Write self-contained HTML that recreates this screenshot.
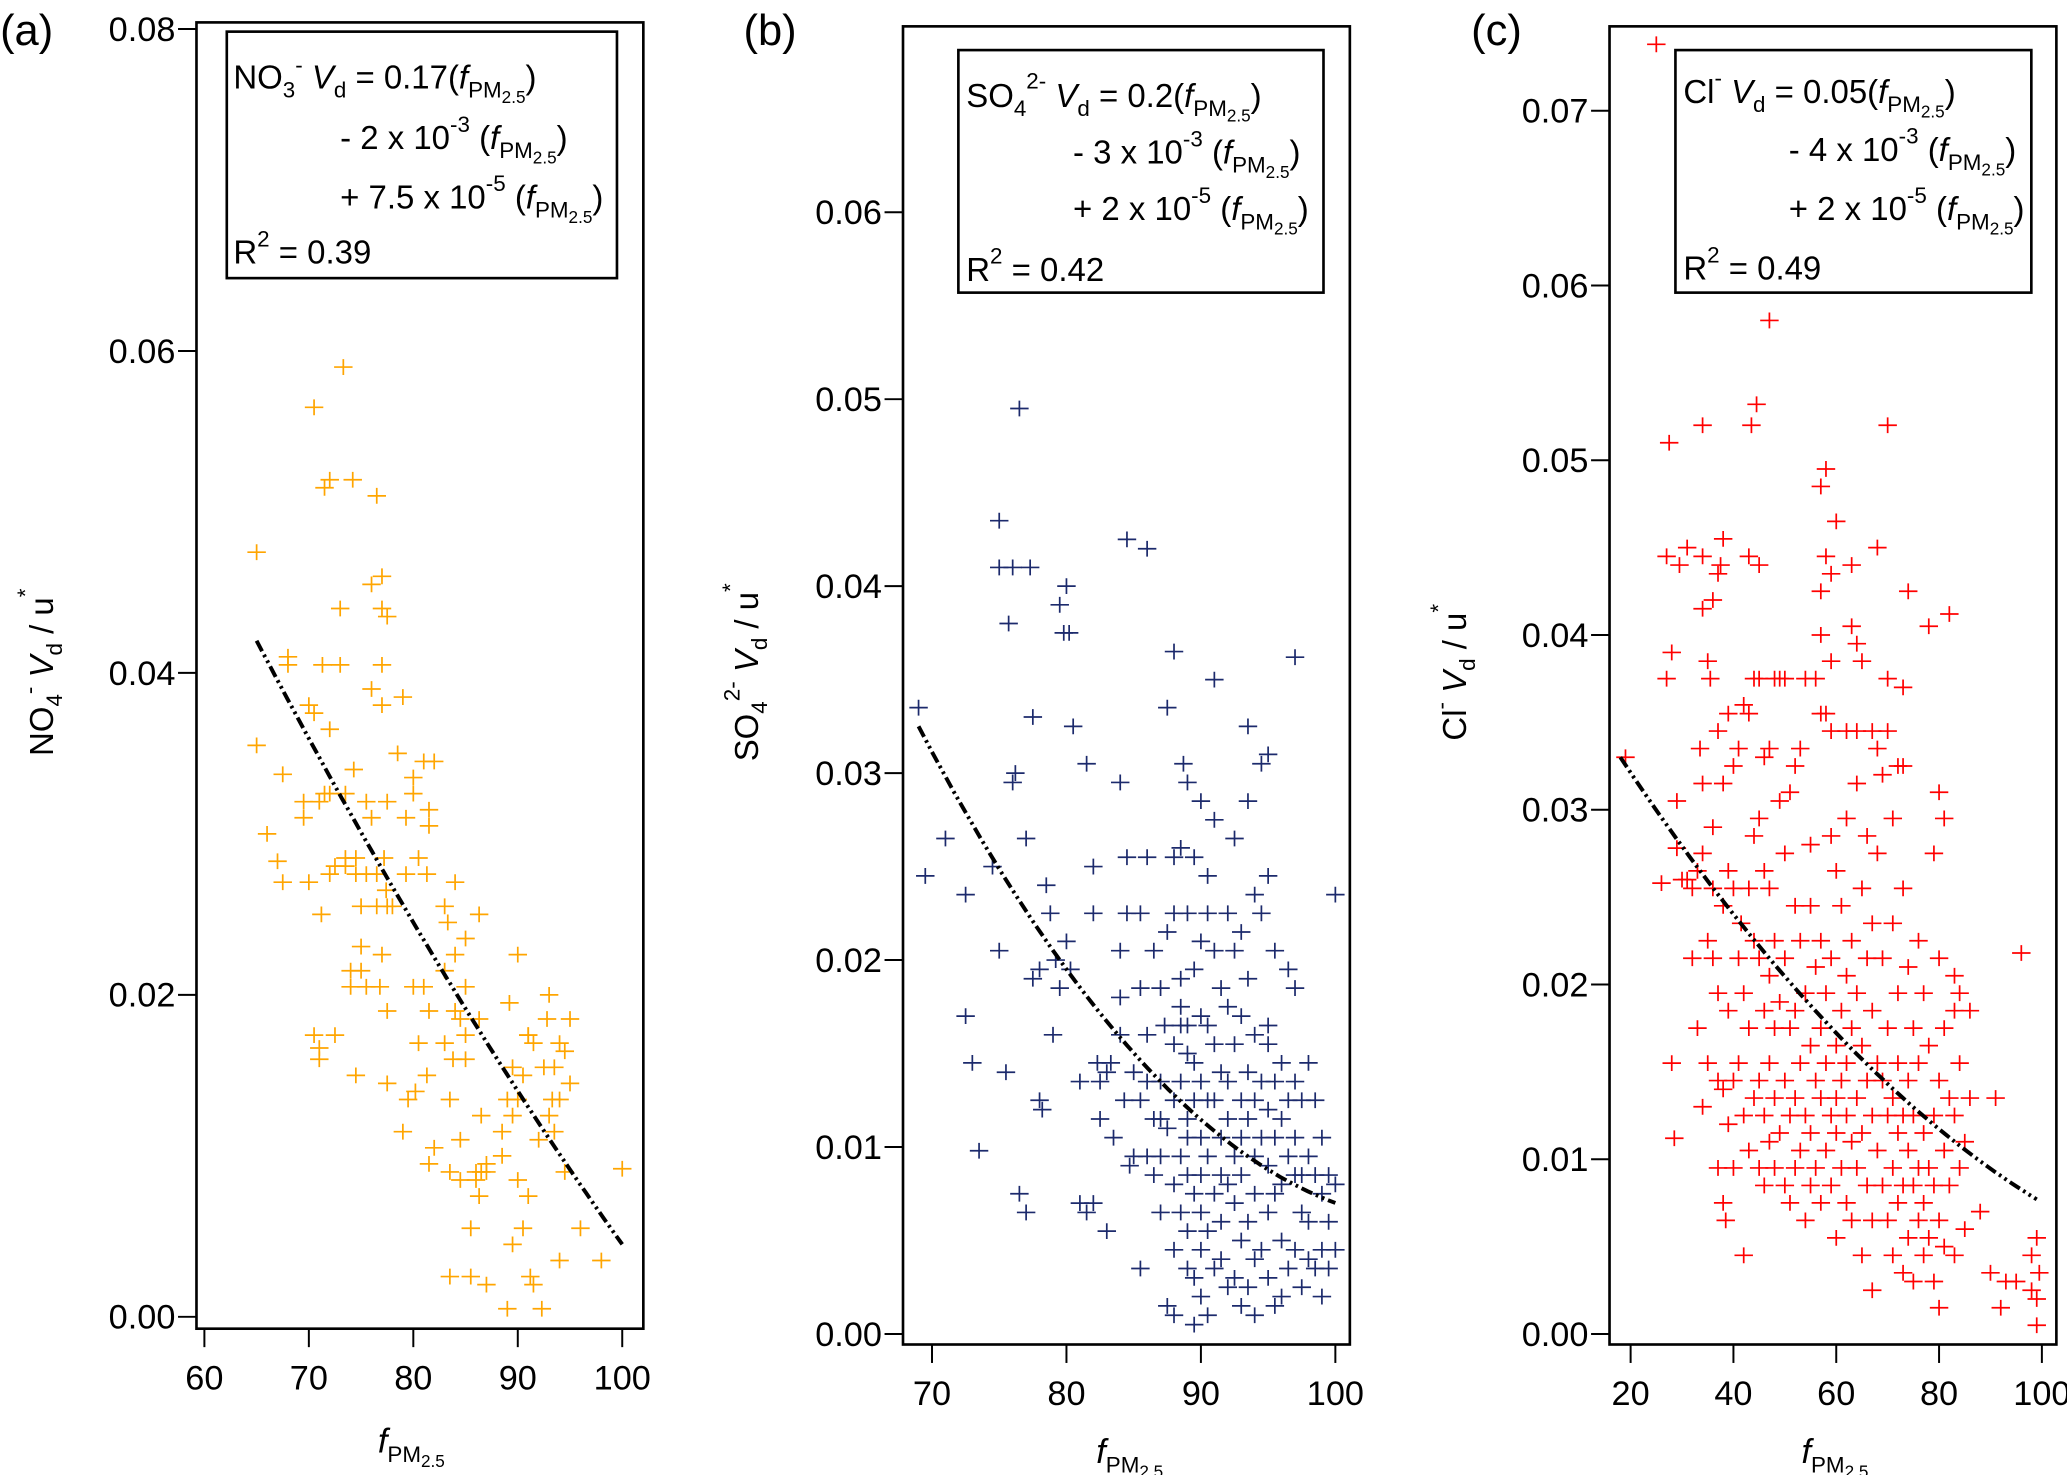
<!DOCTYPE html>
<html><head><meta charset="utf-8"><style>
html,body{margin:0;padding:0;background:#fff}
svg{display:block}
text{font-family:"Liberation Sans",Arial,sans-serif;fill:#000}
</style></head><body>
<svg id="chart" width="2067" height="1475" viewBox="0 0 1568 1119" xmlns="http://www.w3.org/2000/svg">
<g id="static">
<text x="0" y="34" font-size="33">(a)</text>
<text x="564" y="34" font-size="33">(b)</text>
<text x="1116" y="34" font-size="33">(c)</text>

<g>
<rect x="172" y="24" width="296" height="187" fill="#fff" stroke="#000" stroke-width="2"/>
<text x="177" y="67" font-size="25">NO<tspan font-size="17" dy="7">3</tspan><tspan font-size="17" dy="-19">-</tspan><tspan dy="12"> </tspan><tspan font-style="italic">V</tspan><tspan font-size="17" dy="7">d</tspan><tspan dy="-7"> = 0.17(</tspan><tspan font-style="italic">f</tspan><tspan font-size="17" dy="7">PM</tspan><tspan font-size="13" dy="4">2.5</tspan><tspan dy="-11">)</tspan></text>
<text x="258" y="113" font-size="25">- 2 x 10<tspan font-size="17" dy="-13">-3</tspan><tspan dy="13"> (</tspan><tspan font-style="italic">f</tspan><tspan font-size="17" dy="7">PM</tspan><tspan font-size="13" dy="4">2.5</tspan><tspan dy="-11">)</tspan></text>
<text x="258" y="158" font-size="25">+ 7.5 x 10<tspan font-size="17" dy="-13">-5</tspan><tspan dy="13"> (</tspan><tspan font-style="italic">f</tspan><tspan font-size="17" dy="7">PM</tspan><tspan font-size="13" dy="4">2.5</tspan><tspan dy="-11">)</tspan></text>
<text x="177" y="200" font-size="25">R<tspan font-size="17" dy="-13">2</tspan><tspan dy="13"> = 0.39</tspan></text>
</g>
<g>
<rect x="727" y="38" width="277" height="184" fill="#fff" stroke="#000" stroke-width="2"/>
<text x="733" y="81" font-size="25">SO<tspan font-size="17" dy="7">4</tspan><tspan font-size="17" dy="-21">2-</tspan><tspan dy="14"> </tspan><tspan font-style="italic">V</tspan><tspan font-size="17" dy="7">d</tspan><tspan dy="-7"> = 0.2(</tspan><tspan font-style="italic">f</tspan><tspan font-size="17" dy="7">PM</tspan><tspan font-size="13" dy="4">2.5</tspan><tspan dy="-11">)</tspan></text>
<text x="814" y="124" font-size="25">- 3 x 10<tspan font-size="17" dy="-13">-3</tspan><tspan dy="13"> (</tspan><tspan font-style="italic">f</tspan><tspan font-size="17" dy="7">PM</tspan><tspan font-size="13" dy="4">2.5</tspan><tspan dy="-11">)</tspan></text>
<text x="814" y="167" font-size="25">+ 2 x 10<tspan font-size="17" dy="-13">-5</tspan><tspan dy="13"> (</tspan><tspan font-style="italic">f</tspan><tspan font-size="17" dy="7">PM</tspan><tspan font-size="13" dy="4">2.5</tspan><tspan dy="-11">)</tspan></text>
<text x="733" y="213" font-size="25">R<tspan font-size="17" dy="-13">2</tspan><tspan dy="13"> = 0.42</tspan></text>
</g>
<g>
<rect x="1271" y="38" width="270" height="184" fill="#fff" stroke="#000" stroke-width="2"/>
<text x="1277" y="78" font-size="25">Cl<tspan font-size="17" dy="-13">-</tspan><tspan dy="13"> </tspan><tspan font-style="italic">V</tspan><tspan font-size="17" dy="7">d</tspan><tspan dy="-7"> = 0.05(</tspan><tspan font-style="italic">f</tspan><tspan font-size="17" dy="7">PM</tspan><tspan font-size="13" dy="4">2.5</tspan><tspan dy="-11">)</tspan></text>
<text x="1357" y="122" font-size="25">- 4 x 10<tspan font-size="17" dy="-13">-3</tspan><tspan dy="13"> (</tspan><tspan font-style="italic">f</tspan><tspan font-size="17" dy="7">PM</tspan><tspan font-size="13" dy="4">2.5</tspan><tspan dy="-11">)</tspan></text>
<text x="1357" y="167" font-size="25">+ 2 x 10<tspan font-size="17" dy="-13">-5</tspan><tspan dy="13"> (</tspan><tspan font-style="italic">f</tspan><tspan font-size="17" dy="7">PM</tspan><tspan font-size="13" dy="4">2.5</tspan><tspan dy="-11">)</tspan></text>
<text x="1277" y="212" font-size="25">R<tspan font-size="17" dy="-13">2</tspan><tspan dy="13"> = 0.49</tspan></text>
</g>

<text transform="translate(40,510) rotate(-90)" text-anchor="middle" font-size="25">NO<tspan font-size="17" dy="7">4</tspan><tspan font-size="17" dy="-19">-</tspan><tspan dy="12"> </tspan><tspan font-style="italic">V</tspan><tspan font-size="17" dy="7">d</tspan><tspan dy="-7"> / u</tspan><tspan font-size="17" dy="-15">*</tspan></text>
<text transform="translate(575,510) rotate(-90)" text-anchor="middle" font-size="25">SO<tspan font-size="17" dy="7">4</tspan><tspan font-size="17" dy="-21">2-</tspan><tspan dy="14"> </tspan><tspan font-style="italic">V</tspan><tspan font-size="17" dy="7">d</tspan><tspan dy="-7"> / u</tspan><tspan font-size="17" dy="-15">*</tspan></text>
<text transform="translate(1112,510) rotate(-90)" text-anchor="middle" font-size="25">Cl<tspan font-size="17" dy="-13">-</tspan><tspan dy="13"> </tspan><tspan font-style="italic">V</tspan><tspan font-size="17" dy="7">d</tspan><tspan dy="-7"> / u</tspan><tspan font-size="17" dy="-15">*</tspan></text>

<text x="312" y="1102" text-anchor="middle" font-size="26"><tspan font-style="italic">f</tspan><tspan font-size="17" dy="7">PM</tspan><tspan font-size="13" dy="4">2.5</tspan></text>
<text x="857" y="1110" text-anchor="middle" font-size="26"><tspan font-style="italic">f</tspan><tspan font-size="17" dy="7">PM</tspan><tspan font-size="13" dy="4">2.5</tspan></text>
<text x="1392" y="1110" text-anchor="middle" font-size="26"><tspan font-style="italic">f</tspan><tspan font-size="17" dy="7">PM</tspan><tspan font-size="13" dy="4">2.5</tspan></text>
</g>
<g id="dyn"></g>
</svg>
<script>
// Panel A data (NO3-)
const aX = [65,65,66,67,67.5,67.5,68,68,69.5,69.5,70,70,70.5,70.5,70.5,71,71,71,71.2,71.3,71.5,71.5,72,72,72,72,72.5,72.5,73,73,73.3,73.5,73.5,73.5,74,74,74.2,74.3,74.5,74.5,74.5,75,75,75,75.5,75.5,75.5,76,76,76,76.5,76.5,76.5,76.8,77,77,77,77,77,77.2,77.4,77.5,77.5,77.5,77.5,77.5,78,78.5,79,79,79.3,79.3,79.5,80,80,80,80.2,80.5,80.5,81,81,81.3,81.3,81.5,81.5,81.5,81.5,82,82,83,83,83,83.3,83.5,83.5,83.5,83.8,84,84,84,84.5,84.5,84.5,85,85,85,85,85.5,85.5,86,86,86.3,86.3,86.3,86.5,86.5,87,87,87,88.5,88.5,89,89,89.2,89.5,89.5,89.5,90,90,90,90.5,90.5,91,91,91,91.2,91.5,91.5,92,92.3,92.5,92.8,93,93,93.3,93.5,93.5,94,94,94,94.5,94.5,95,95,96,98,100];
const aY = [0.0475,0.0355,0.030,0.0283,0.027,0.0337,0.041,0.0405,0.032,0.031,0.027,0.038,0.0565,0.0375,0.0175,0.016,0.032,0.0167,0.025,0.0405,0.0325,0.0515,0.052,0.0365,0.0325,0.0275,0.0175,0.028,0.0405,0.044,0.059,0.0285,0.028,0.0325,0.0205,0.0215,0.052,0.034,0.015,0.0285,0.0275,0.0215,0.0255,0.023,0.0275,0.032,0.0205,0.0455,0.031,0.039,0.051,0.0275,0.0255,0.0205,0.046,0.044,0.0405,0.038,0.0225,0.0285,0.0265,0.0435,0.019,0.0255,0.032,0.0145,0.0255,0.035,0.0385,0.0115,0.0275,0.031,0.0135,0.0325,0.0335,0.0205,0.014,0.0285,0.017,0.0205,0.0345,0.0275,0.015,0.0305,0.019,0.0315,0.0095,0.0345,0.0105,0.0255,0.0215,0.017,0.0245,0.0135,0.0025,0.009,0.016,0.027,0.0225,0.019,0.0185,0.011,0.0085,0.0235,0.0205,0.0175,0.016,0.0055,0.0025,0.0085,0.009,0.0185,0.025,0.0075,0.009,0.0125,0.009,0.0020,0.0095,0.010,0.0115,0.0005,0.0135,0.0195,0.0045,0.0155,0.0125,0.0225,0.0135,0.0085,0.015,0.0055,0.0175,0.0075,0.0175,0.0025,0.017,0.002,0.011,0.0005,0.0155,0.0185,0.0125,0.02,0.0135,0.0115,0.0155,0.0035,0.017,0.0135,0.009,0.0165,0.0185,0.0145,0.0055,0.0035,0.0092];
const aFit = [0.042, -0.001238, 4.76e-6]; // y = c0 + c1*(x-65) + c2*(x-65)^2
const aXTicks = [60,70,80,90,100];
const aYTicks = [0,0.02,0.04,0.06,0.08];

// Panel B data (SO4 2-)
const bX = [76.5,75,75,76,75.7,77.3,79.5,80,79.8,80.2,84.5,86,69,69.5,71,72.5,72.5,73,73.5,74.5,75,75.5,76,76.2,76.5,77,77.5,77.5,78,78,78.2,78.5,78.8,79,79.2,79.5,80,80.3,80.5,81,81,81.5,81.5,82,82,82,82.3,82.5,83,83,83.3,84,84,84,84,84.3,84.5,84.5,84.7,85,85,85.5,85.5,85.5,86,86,86,86,86.5,86.5,86.5,87,87,87,87,87,87.3,87.5,87.5,87.5,88,88,88,88,88,88,88,88,88.5,88.5,88.5,88.5,88.5,88.5,88.7,89,89,89,89,89,89,89,89,89,89.5,89.5,89.5,89.5,89.5,89.5,89.5,90,90,90,90,90,90,90,90,90,90.5,90.5,90.5,90.5,90.5,90.5,91,91,91,91,91,91,91.5,91.5,91.5,91.5,91.5,91.5,92,92,92,92,92,92,92.5,92.5,92.5,92.5,92.5,93,93,93,93,93,93,93,93.5,93.5,93.5,93.5,93.5,93.5,94,94,94,94,94,94,94,94.5,94.5,94.5,94.5,94.5,95,95,95,95,95,95,95,95,95.5,95.5,95.5,95.5,95.5,96,96,96,96,96,96.5,96.5,96.5,96.5,97,97,97,97,97,97,97.5,97.5,97.5,97.5,98,98,98,98,98.5,98.5,98.5,99,99,99,99,99.5,99.5,99.5,100,100,100,82.5,83.5,85.5,87.5,88.5,91,92.5,93.5,90.5,77];
const bY = [0.0495,0.0435,0.041,0.041,0.038,0.041,0.039,0.040,0.0375,0.0375,0.0425,0.042,0.0335,0.0245,0.0265,0.0235,0.017,0.0145,0.0098,0.0250,0.0205,0.014,0.0295,0.030,0.0075,0.0265,0.033,0.019,0.0195,0.0125,0.012,0.024,0.0225,0.016,0.02,0.0185,0.021,0.0195,0.0325,0.0135,0.007,0.0305,0.0065,0.025,0.0225,0.007,0.0145,0.0115,0.014,0.0055,0.0145,0.0295,0.0205,0.018,0.016,0.0125,0.0225,0.0255,0.009,0.014,0.0095,0.0185,0.0125,0.0035,0.0255,0.016,0.0135,0.0095,0.0205,0.0115,0.0085,0.0185,0.0135,0.0115,0.0095,0.0065,0.0165,0.0335,0.0015,0.011,0.0365,0.0255,0.0225,0.0155,0.0125,0.008,0.0045,0.001,0.026,0.019,0.0175,0.0135,0.0095,0.0065,0.0305,0.0295,0.0225,0.0165,0.015,0.0115,0.0105,0.0085,0.0055,0.0035,0.0255,0.0195,0.0145,0.0125,0.0075,0.003,0.0005,0.0285,0.021,0.017,0.0135,0.0105,0.0085,0.0065,0.0045,0.002,0.0225,0.0165,0.0125,0.0095,0.0055,0.001,0.035,0.0205,0.0155,0.0125,0.0075,0.0035,0.0185,0.014,0.0105,0.0085,0.006,0.004,0.0225,0.0175,0.0135,0.0115,0.008,0.0025,0.0205,0.0155,0.0095,0.007,0.003,0.0215,0.017,0.0125,0.0105,0.0085,0.005,0.0015,0.0325,0.019,0.014,0.0115,0.006,0.0025,0.0235,0.016,0.0125,0.0095,0.0075,0.004,0.001,0.0305,0.0225,0.0135,0.0105,0.0045,0.031,0.0245,0.0165,0.0155,0.012,0.009,0.0065,0.003,0.0205,0.0135,0.0105,0.0075,0.0015,0.0145,0.0115,0.008,0.005,0.002,0.0195,0.0125,0.0095,0.0035,0.0362,0.0185,0.0135,0.0105,0.0085,0.0045,0.0125,0.0085,0.0065,0.0025,0.0145,0.0095,0.006,0.004,0.0125,0.0085,0.0035,0.0105,0.0075,0.0045,0.002,0.0085,0.006,0.0035,0.0235,0.008,0.0045,0.0135,0.0105,0.0225,0.0215,0.0165,0.0275,0.0265,0.0285,0.0245,0.0065];
const bFit = [0.0325, -0.001379, 1.796e-5]; // about x=69
const bXTicks = [70,80,90,100];
const bYTicks = [0,0.01,0.02,0.03,0.04,0.05,0.06];

// Panel C data (Cl-)
const cX = [19,25,26,27,27,27.5,28,28,28.5,29,29,29.5,30,31,31,32,32,33,33,33.5,34,34,34,34,34,34,35,35,35,35.5,36,36,36,36,37,37,37,37,37,37.5,38,38,38,38,38,38.5,39,39,39,39,40,40,40,40,41,41,41,41.5,42,42,42,42,43,43,43,43,43,43.5,44,44,44,44,44.5,45,45,45,45,45,45,46,46,46,46,46,47,47,47,47,47,47,48,48,48,48,48,49,49,49,49,50,50,50,50,50,51,51,51,51,52,52,52,52,52,53,53,53,53,54,54,54,54,55,55,55,55,55,56,56,56,56,57,57,57,57,57,57,57,57,58,58,58,58,58,58,59,59,59,59,59,59,59,60,60,60,60,60,60,61,61,61,61,62,62,62,62,62,62,63,63,63,63,63,63,64,64,64,64,64,64,65,65,65,65,65,66,66,66,66,67,67,67,67,67,67,68,68,68,68,68,69,69,69,69,70,70,70,70,70,70,71,71,71,71,71,72,72,72,72,72,73,73,73,73,73,73,74,74,74,74,74,75,75,75,75,76,76,76,76,77,77,77,77,78,78,78,78,79,79,79,79,80,80,80,80,80,81,81,81,81,82,82,82,83,83,83,83,84,84,84,85,85,86,86,88,90,91,92,93,95,96,98,98,99,99,99.5,99];
const cY = [0.033,0.0738,0.0258,0.0375,0.0445,0.051,0.039,0.0155,0.0112,0.0305,0.0278,0.044,0.026,0.045,0.026,0.0255,0.0215,0.0265,0.0175,0.0335,0.052,0.0445,0.0415,0.0315,0.0275,0.013,0.0385,0.0225,0.0155,0.0375,0.042,0.029,0.0255,0.0215,0.0345,0.0435,0.0195,0.0145,0.0095,0.044,0.0455,0.0315,0.0245,0.014,0.0075,0.0065,0.0355,0.0265,0.0185,0.012,0.0325,0.0255,0.0145,0.0095,0.0335,0.0215,0.0155,0.0235,0.036,0.0195,0.0045,0.0125,0.0355,0.0445,0.0255,0.0175,0.0105,0.052,0.0375,0.0285,0.0225,0.0135,0.0532,0.044,0.0375,0.0295,0.0215,0.0145,0.0095,0.033,0.0265,0.0185,0.0125,0.0085,0.058,0.0335,0.0255,0.0205,0.0155,0.011,0.0375,0.0225,0.0175,0.0135,0.0095,0.0375,0.0305,0.019,0.0115,0.0375,0.0275,0.0215,0.0145,0.0085,0.031,0.0175,0.0125,0.0075,0.0325,0.0245,0.0185,0.0135,0.0095,0.0335,0.0225,0.0155,0.0105,0.0375,0.0195,0.0125,0.0065,0.028,0.0245,0.0165,0.0115,0.0085,0.0375,0.021,0.0145,0.0095,0.0485,0.0425,0.04,0.0355,0.0225,0.0175,0.0135,0.0075,0.0495,0.0445,0.0355,0.0195,0.0155,0.0105,0.0435,0.0385,0.0345,0.0285,0.0215,0.0125,0.0085,0.0465,0.0265,0.0165,0.0135,0.0115,0.0055,0.0245,0.0185,0.0145,0.0095,0.0345,0.0295,0.0205,0.0155,0.0125,0.0075,0.044,0.0405,0.0225,0.0175,0.011,0.0065,0.0395,0.0345,0.0315,0.0195,0.0135,0.0095,0.0385,0.0255,0.0165,0.0115,0.0045,0.0285,0.0215,0.0145,0.0085,0.0345,0.0235,0.0185,0.0125,0.0065,0.0025,0.045,0.0335,0.0275,0.0155,0.0105,0.032,0.0215,0.0145,0.0085,0.052,0.0375,0.0345,0.0175,0.0125,0.0065,0.0295,0.0235,0.0135,0.0095,0.0045,0.0325,0.0195,0.0155,0.0115,0.0075,0.037,0.0325,0.0255,0.0125,0.0085,0.0035,0.0425,0.021,0.0145,0.0105,0.0055,0.0175,0.0125,0.0085,0.003,0.0225,0.0155,0.0095,0.0065,0.0195,0.0115,0.0075,0.0045,0.0405,0.0165,0.0095,0.0055,0.0275,0.0125,0.0085,0.003,0.031,0.0215,0.0145,0.0065,0.0015,0.0295,0.0175,0.0105,0.005,0.0412,0.0135,0.0085,0.0205,0.0185,0.0125,0.0045,0.0195,0.0155,0.0095,0.011,0.006,0.0185,0.0135,0.007,0.0035,0.0135,0.0015,0.003,0.003,0.0218,0.0045,0.0025,0.0055,0.002,0.0035,0.0005];
const cFit = [0.033, -0.000444, 1.626e-6]; // about x=18
const cXTicks = [20,40,60,80,100];
const cYTicks = [0,0.01,0.02,0.03,0.04,0.05,0.06,0.07];

const NS = 'http://www.w3.org/2000/svg';
const dyn = document.getElementById('dyn');
function mk(tag, attrs, parent){
  const el = document.createElementNS(NS, tag);
  for (const k in attrs) el.setAttribute(k, attrs[k]);
  (parent||dyn).appendChild(el);
  return el;
}
function linScale(d0,d1,r0,r1){ return v => r0 + (v-d0)*(r1-r0)/(d1-d0); }

function panel(id, cfg){
  const g = mk('g', {});
  
  
  const sx = linScale(cfg.xd[0], cfg.xd[1], cfg.xr[0], cfg.xr[1]);
  const sy = linScale(cfg.yd[0], cfg.yd[1], cfg.yr[0], cfg.yr[1]);
  const fr = mk('rect', {x:cfg.L, y:cfg.T, width:cfg.R-cfg.L, height:cfg.B-cfg.T, fill:'none', stroke:'#000', 'stroke-width':2}, g);
  
  
  cfg.yt.forEach(v => {
    const y = sy(v);
    const t = mk('line', {x1:cfg.L-14, x2:cfg.L, y1:y, y2:y, stroke:'#000', 'stroke-width':1.5}, g);
    
    
    const lb = mk('text', {x:cfg.L-16, y:y+9, 'text-anchor':'end', 'font-size':26}, g);
    
    
    lb.textContent = v.toFixed(2);
  });
  cfg.xt.forEach(v => {
    const x = sx(v);
    const t = mk('line', {x1:x, x2:x, y1:cfg.B, y2:cfg.B+14, stroke:'#000', 'stroke-width':1.5}, g);
    
    
    const lb = mk('text', {x:x, y:cfg.B+46, 'text-anchor':'middle', 'font-size':26}, g);
    
    
    lb.textContent = String(v);
  });
  const pg = mk('g', {stroke:cfg.color, 'stroke-width':1.3, fill:'none'}, g);
  
  
  cfg.X.forEach((xv,i) => {
    const x = sx(xv), y = sy(cfg.Y[i]);
    const p = mk('path', {d:`M${x-7},${y}H${x+7}M${x},${y-6}V${y+6}`}, pg);
    
    
  });
  let d = '';
  for (let k=0;k<=60;k++){
    const xv = cfg.fitRange[0] + (cfg.fitRange[1]-cfg.fitRange[0])*k/60;
    const t = xv - cfg.fitX0;
    const yv = cfg.fit[0] + cfg.fit[1]*t + cfg.fit[2]*t*t;
    d += (k?'L':'M') + sx(xv).toFixed(1) + ',' + sy(yv).toFixed(1);
  }
  const fl = mk('path', {d:d, fill:'none', stroke:'#000', 'stroke-width':3, 'stroke-dasharray':'9,3,2,3,2,3'}, g);
  
  
}

panel('panel-a', {L:149, R:488, T:17, B:1008, xd:[60,100], xr:[155,472], yd:[0,0.08], yr:[999,22],
  xt:aXTicks, yt:aYTicks, X:aX, Y:aY, color:'#ffa500', fit:aFit, fitX0:65, fitRange:[65,100]});
panel('panel-b', {L:685, R:1024, T:20, B:1020, xd:[70,100], xr:[707,1013], yd:[0,0.06], yr:[1012,161],
  xt:bXTicks, yt:bYTicks, X:bX, Y:bY, color:'#1c2a6c', fit:bFit, fitX0:69, fitRange:[69,100]});
panel('panel-c', {L:1221, R:1560, T:20, B:1020, xd:[20,100], xr:[1237,1549], yd:[0,0.07], yr:[1012,84],
  xt:cXTicks, yt:cYTicks, X:cX, Y:cY, color:'#ff0000', fit:cFit, fitX0:18, fitRange:[18,99]});
document.getElementById('chart').appendChild(document.getElementById('static'));
</script>
</body></html>
